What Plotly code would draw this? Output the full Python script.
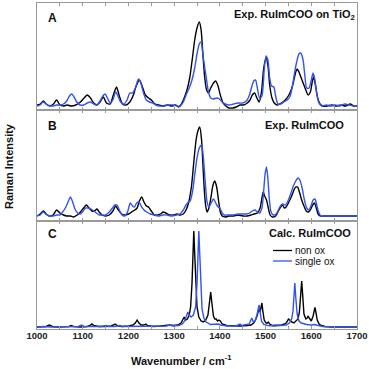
import plotly.graph_objects as go
from plotly.subplots import make_subplots

a_non_x = [1000, 1007, 1014, 1020, 1028, 1036, 1043, 1050, 1058, 1066, 1075, 1085, 1095, 1103, 1110,
           1117, 1124, 1131, 1138, 1145, 1152, 1160, 1167, 1174, 1180, 1187, 1195, 1203, 1210, 1217,
           1224, 1230, 1237, 1244, 1250, 1258, 1266, 1275, 1285, 1295, 1303, 1310, 1316, 1322, 1328,
           1334, 1340, 1345, 1350, 1355, 1359, 1363, 1367, 1371, 1375, 1380, 1386, 1391, 1396, 1401,
           1407, 1413, 1420, 1428, 1436, 1444, 1452, 1460, 1466, 1471, 1476, 1481, 1486, 1491, 1496,
           1501, 1505, 1509, 1514, 1519, 1525, 1531, 1538, 1545, 1551, 1556, 1561, 1566, 1569, 1573,
           1578, 1583, 1588, 1593, 1598, 1602, 1605, 1609, 1614, 1619, 1625, 1635, 1645, 1655, 1665,
           1675, 1685, 1693, 1700]
a_non_y = [5, 6, 9, 6, 4, 6, 10, 5, 4, 5, 4, 5, 8, 12, 15,
           12, 7, 5, 8, 13, 7, 6, 15, 23, 14, 6, 5, 8, 14, 24,
           30, 24, 15, 12, 10, 6, 5, 4, 5, 4, 5, 3, 6, 12, 20,
           32, 52, 70, 82, 88, 80, 55, 32, 20, 17, 22, 27, 29, 24, 15,
           7, 4, 2, 2, 3, 5, 5, 7, 10, 15, 17, 12, 8, 18, 42,
           52, 45, 25, 12, 7, 5, 6, 8, 11, 15, 20, 28, 38, 41, 38,
           32, 26, 20, 15, 18, 28, 33, 25, 12, 6, 4, 4, 5, 4, 5,
           4, 6, 4, 4]
a_single_x = [1000, 1007, 1013, 1020, 1028, 1035, 1043, 1050, 1058, 1065, 1071, 1076, 1081, 1087, 1094,
              1102, 1110, 1117, 1124, 1131, 1138, 1144, 1149, 1154, 1160, 1166, 1172, 1177, 1183, 1190,
              1197, 1203, 1209, 1215, 1222, 1227, 1233, 1239, 1246, 1253, 1260, 1268, 1278, 1288, 1298,
              1306, 1313, 1320, 1327, 1333, 1339, 1345, 1350, 1355, 1359, 1363, 1367, 1371, 1375, 1380,
              1386, 1393, 1399, 1405, 1412, 1420, 1430, 1440, 1450, 1458, 1464, 1469, 1474, 1478, 1482,
              1487, 1492, 1497, 1501, 1505, 1509, 1513, 1518, 1522, 1527, 1533, 1540, 1547, 1553, 1558,
              1563, 1568, 1573, 1577, 1582, 1586, 1590, 1595, 1600, 1604, 1608, 1612, 1617, 1623, 1633,
              1643, 1653, 1663, 1673, 1683, 1693, 1700]
a_single_y = [4, 5, 8, 6, 4, 4, 5, 5, 6, 9, 14, 16, 13, 8, 5,
              5, 7, 8, 6, 5, 9, 14, 16, 12, 7, 10, 18, 14, 8, 6,
              10, 17, 17, 22, 31, 27, 17, 10, 8, 7, 5, 4, 4, 5, 5,
              4, 4, 8, 16, 22, 30, 42, 56, 66, 68, 55, 42, 30, 18, 12,
              11, 12, 11, 8, 6, 5, 6, 7, 7, 9, 14, 22, 29, 30, 22,
              12, 14, 40, 54, 50, 32, 24, 23, 14, 6, 6, 8, 10, 13, 22,
              36, 48, 56, 57, 50, 34, 22, 22, 30, 37, 30, 16, 7, 4, 5,
              4, 5, 4, 6, 5, 4, 4]

# Panel B: experimental, RuImCOO
b_non_x = [1000, 1007, 1014, 1020, 1027, 1035, 1043, 1050, 1058, 1065, 1073, 1080, 1088, 1095, 1102,
           1108, 1114, 1120, 1126, 1131, 1136, 1142, 1150, 1158, 1166, 1172, 1178, 1185, 1192, 1200,
           1207, 1214, 1219, 1224, 1229, 1234, 1239, 1244, 1250, 1257, 1264, 1270, 1276, 1282, 1290,
           1298, 1306, 1313, 1320, 1326, 1332, 1338, 1343, 1348, 1352, 1356, 1360, 1363, 1366, 1369,
           1372, 1376, 1381, 1385, 1389, 1393, 1397, 1401, 1405, 1412, 1420, 1430, 1440, 1450, 1460,
           1468, 1475, 1482, 1488, 1492, 1495, 1498, 1502, 1506, 1510, 1515, 1522, 1528, 1533, 1537,
           1541, 1545, 1551, 1557, 1562, 1566, 1570, 1574, 1579, 1584, 1589, 1594, 1599, 1603, 1607,
           1611, 1615, 1620, 1630, 1640, 1650, 1660, 1670, 1680, 1690, 1700]
b_non_y = [4, 6, 9, 6, 4, 5, 10, 7, 5, 4, 4, 3, 5, 8, 12,
           15, 12, 9, 9, 11, 8, 5, 4, 5, 9, 14, 10, 6, 5, 6,
           8, 10, 12, 19, 23, 18, 14, 13, 9, 5, 5, 6, 8, 7, 5,
           5, 6, 5, 6, 10, 18, 34, 58, 80, 89, 93, 80, 55, 30, 14,
           8, 12, 24, 35, 39, 33, 20, 8, 4, 3, 4, 4, 5, 4, 4,
           5, 6, 7, 12, 22, 28, 24, 20, 12, 5, 3, 4, 9, 13, 15,
           12, 13, 18, 24, 30, 33, 33, 28, 20, 14, 9, 8, 11, 15, 17,
           12, 6, 4, 4, 4, 4, 4, 4, 4, 4, 4]
b_single_x = [1000, 1007, 1013, 1020, 1027, 1035, 1043, 1050, 1056, 1062, 1068, 1073, 1078, 1083, 1089,
              1095, 1101, 1106, 1112, 1118, 1124, 1130, 1136, 1142, 1150, 1158, 1165, 1170, 1175, 1180,
              1186, 1192, 1198, 1204, 1209, 1213, 1218, 1223, 1228, 1234, 1240, 1248, 1256, 1265, 1275,
              1285, 1295, 1305, 1313, 1320, 1326, 1331, 1335, 1340, 1345, 1350, 1355, 1360, 1364, 1368,
              1372, 1376, 1381, 1386, 1391, 1396, 1400, 1405, 1410, 1420, 1430, 1440, 1450, 1458, 1465,
              1471, 1477, 1482, 1487, 1492, 1496, 1499, 1502, 1505, 1508, 1512, 1517, 1523, 1529, 1534,
              1538, 1543, 1548, 1554, 1560, 1566, 1571, 1575, 1580, 1585, 1590, 1595, 1600, 1604, 1608,
              1612, 1616, 1621, 1630, 1640, 1650, 1660, 1670, 1680, 1690, 1700]
b_single_y = [4, 5, 8, 6, 4, 4, 5, 5, 8, 12, 18, 23, 18, 11, 7,
              6, 9, 12, 12, 11, 9, 7, 5, 5, 5, 8, 12, 15, 15, 10,
              5, 4, 8, 17, 14, 13, 17, 18, 14, 10, 8, 6, 5, 4, 5,
              5, 4, 5, 6, 10, 15, 18, 19, 28, 45, 62, 72, 75, 62, 38,
              18, 13, 17, 21, 17, 13, 12, 7, 5, 5, 5, 6, 6, 6, 7,
              9, 10, 8, 7, 12, 30, 46, 53, 42, 22, 8, 5, 6, 11, 15,
              16, 15, 18, 25, 33, 39, 42, 40, 32, 20, 12, 10, 15, 20, 21,
              15, 8, 4, 4, 4, 4, 4, 4, 4, 4, 4]

# Panel C: calculated spectra
c_non_x = [1000, 1010, 1020, 1027, 1034, 1045, 1060, 1070, 1075, 1080, 1095, 1110, 1116, 1120, 1124,
           1135, 1150, 1162, 1167, 1171, 1175, 1185, 1200, 1210, 1215, 1219, 1223, 1228, 1234, 1238,
           1242, 1255, 1270, 1283, 1291, 1298, 1308, 1315, 1319, 1322, 1325, 1329, 1333, 1336, 1339,
           1341, 1343, 1345, 1347, 1350, 1354, 1359, 1364, 1369, 1374, 1377, 1380, 1383, 1386, 1389,
           1392, 1395, 1398, 1401, 1405, 1415, 1430, 1445, 1460, 1468, 1474, 1479, 1482, 1484, 1486,
           1488, 1490, 1492, 1494, 1497, 1501, 1504, 1506, 1509, 1515, 1525, 1535, 1541, 1545, 1548,
           1550, 1553, 1557, 1562, 1567, 1571, 1574, 1577, 1579, 1581, 1584, 1588, 1591, 1593, 1596,
           1600, 1604, 1606, 1608, 1610, 1613, 1617, 1622, 1630, 1645, 1670, 1700]
c_non_y = [2, 2, 2.5, 4, 2.5, 2, 2, 2.5, 3.5, 2.5, 2, 2.5, 3.5, 5, 3.5,
           2.5, 2.5, 3, 4, 5, 3.5, 2.5, 3, 4, 6, 9, 6, 4, 4, 5,
           3.5, 2.5, 3, 3.5, 4, 3.5, 4, 6, 9, 12, 9, 10, 14, 22, 45,
           75, 98, 75, 45, 22, 12, 8, 7, 9, 14, 25, 37, 24, 13, 10,
           10, 8, 9, 8, 5, 3.5, 3, 3, 3.5, 4, 6, 10, 14, 19, 22,
           17, 24, 26, 18, 9, 6, 6, 7, 5, 3.5, 3.5, 4, 5, 6, 8,
           10, 9, 7, 6, 8, 10, 17, 34, 48, 35, 15, 10, 11, 12.7, 10,
           8, 13, 18, 21.7, 17, 9, 5, 3.5, 2.5, 2, 2, 2]
c_single_x = [1000, 1008, 1012, 1016, 1030, 1060, 1090, 1098, 1103, 1120, 1140, 1151, 1156, 1170, 1181,
              1186, 1220, 1260, 1283, 1290, 1297, 1310, 1318, 1323, 1327, 1330, 1333, 1337, 1342, 1347,
              1350, 1352, 1354, 1356, 1358, 1361, 1365, 1370, 1380, 1390, 1396, 1402, 1415, 1435, 1441,
              1444, 1448, 1458, 1464, 1468, 1470, 1473, 1477, 1481, 1484, 1486, 1488, 1491, 1496, 1505,
              1520, 1535, 1545, 1552, 1557, 1560, 1562, 1564, 1566, 1569, 1573, 1578, 1590, 1600, 1606,
              1610, 1625, 1650, 1700]
c_single_y = [2, 2.5, 3, 2.5, 2, 2, 2.5, 4, 2.5, 2.5, 2.5, 3.5, 2.5, 2.5, 3.5,
              2.5, 2.5, 2.5, 3, 4, 3, 3.5, 5, 8, 14, 17, 14, 12, 14, 22,
              45, 75, 98, 75, 45, 20, 11, 7, 4.5, 4.5, 5, 4, 3, 3, 4,
              5, 3.5, 4, 5, 9, 11, 7, 8, 14, 22, 24, 17, 8, 4.5, 3.5,
              3, 3.5, 4, 6, 10, 18, 32, 46, 32, 15, 8, 6, 4.5, 4, 4.5,
              4, 2.5, 2, 2]

x_ticks = list(range(1000, 1701, 50))
x_ticklabels = ['<b>%d</b>' % v if v % 100 == 0 else '' for v in x_ticks]

BLACK = '#000000'
BLUE = '#3352f0'
FRAME = '#9a9a9a'
FONT = 'Liberation Sans, Arial, sans-serif'

fig = make_subplots(rows=3, cols=1, shared_xaxes=True, vertical_spacing=0,
                    row_heights=[107, 111, 108])

panels = [(a_non_x, a_non_y, a_single_x, a_single_y, 'spline'),
          (b_non_x, b_non_y, b_single_x, b_single_y, 'spline'),
          (c_non_x, c_non_y, c_single_x, c_single_y, 'linear')]
for i, (nx, ny, sx, sy, shape) in enumerate(panels, start=1):
    fig.add_trace(go.Scatter(x=nx, y=ny, mode='lines', name='non ox', showlegend=False,
                             line=dict(color=BLACK, width=1.4, shape=shape, smoothing=0.7)),
                  row=i, col=1)
    fig.add_trace(go.Scatter(x=sx, y=sy, mode='lines', name='single ox', showlegend=False,
                             line=dict(color=BLUE, width=1.4, shape=shape, smoothing=0.7)),
                  row=i, col=1)

fig.update_xaxes(range=[1000, 1700], tickvals=x_ticks, ticktext=x_ticklabels,
                 ticks='inside', ticklen=3, tickcolor=FRAME, showline=True, linecolor=FRAME,
                 linewidth=1, mirror='ticks', showgrid=False, zeroline=False, automargin=False,
                 tickfont=dict(family=FONT, size=9.5, color='#222'))
fig.update_xaxes(showticklabels=False, row=1, col=1)
fig.update_xaxes(showticklabels=False, row=2, col=1)
fig.update_xaxes(ticklabelstandoff=-2, row=3, col=1)
fig.update_yaxes(showticklabels=False, ticks='', showline=True, linecolor=FRAME, linewidth=1,
                 mirror=True, showgrid=False, zeroline=False)
fig.update_yaxes(range=[0, 107], row=1, col=1)
fig.update_yaxes(range=[-1, 110], row=2, col=1)
fig.update_yaxes(range=[0, 108], row=3, col=1)

L, R, T, B = 37, 357, 3, 329


def px(xp):
    return (xp - L) / (R - L)


def py(yp):
    return (B - yp) / (B - T)


def note(text, xp, yp, size, anchor='left', angle=0, bold=True):
    fig.add_annotation(text='<b>%s</b>' % text if bold else text, xref='paper', yref='paper',
                       x=px(xp), y=py(yp), xanchor=anchor, yanchor='middle', showarrow=False,
                       textangle=angle, font=dict(family=FONT, size=size, color='#111'))


note('A', 46, 18, 12)
note('B', 46, 126, 12)
note('C', 46, 234, 12)
note('Exp. RuImCOO on TiO<sub>2</sub>', 357, 15, 11, anchor='right')
note('Exp. RuImCOO', 346, 125, 11, anchor='right')
note('Calc. RuImCOO', 353, 233, 11, anchor='right')
note('Raman Intensity', 9, 166, 11, anchor='center', angle=-90)
note('Wavenumber / cm<sup>-1</sup>', 181, 360, 11, anchor='center')

# legend in panel C
for yp, col, label in [(250.5, BLACK, 'non ox'), (261, BLUE, 'single ox')]:
    fig.add_shape(type='line', xref='paper', yref='paper', x0=px(273), x1=px(292),
                  y0=py(yp), y1=py(yp), line=dict(color=col, width=1.3))
    note(label, 293, yp, 10, bold=False)

fig.update_layout(width=369, height=369, margin=dict(l=L, r=369 - R, t=T, b=369 - B),
                  paper_bgcolor='white', plot_bgcolor='white', showlegend=False)

fig.write_html('out.html', config={'displayModeBar': False},
               post_script="document.body.style.margin='0';")
